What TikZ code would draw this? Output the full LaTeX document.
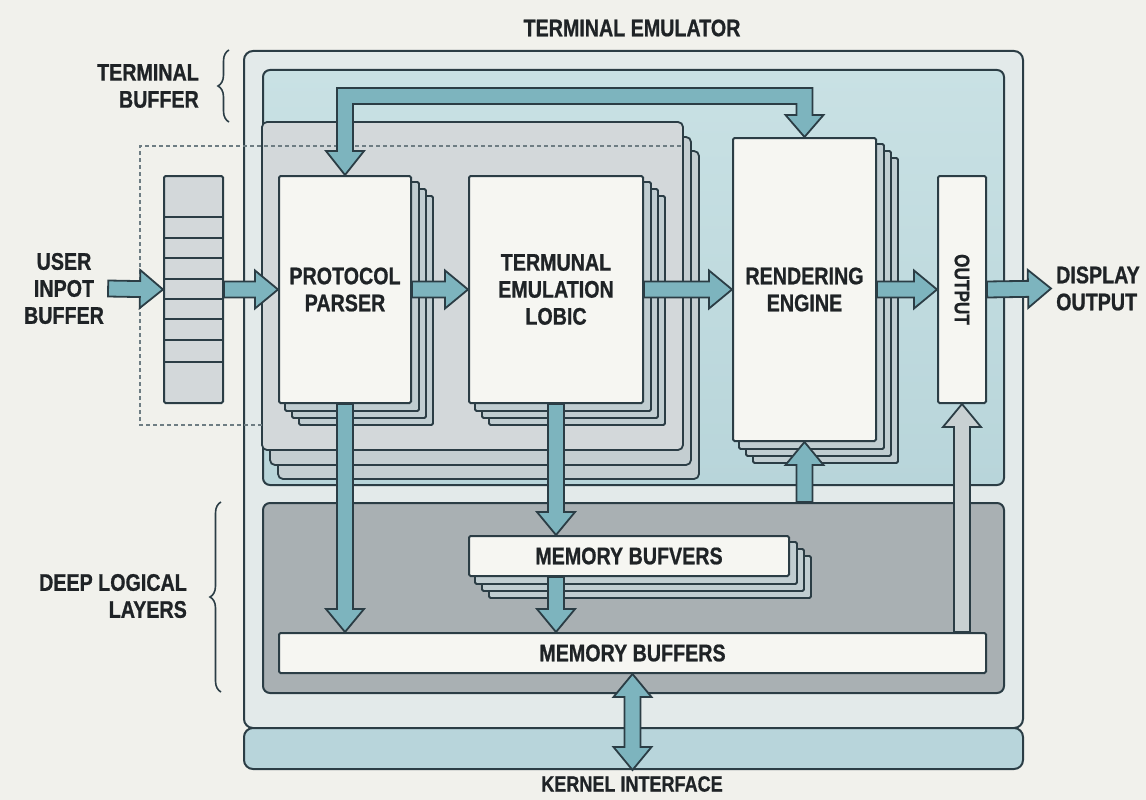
\documentclass[tikz,border=0pt]{standalone}
\usepackage{fontspec}
\setmainfont{Liberation Sans}[FakeStretch=0.82, BoldFeatures={FakeBold=0.8}]
\usetikzlibrary{calc,decorations.pathreplacing}
\pgfdeclarelayer{bg}\pgfdeclarelayer{mid}\pgfdeclarelayer{stk}\pgfdeclarelayer{fg}
\pgfsetlayers{bg,mid,stk,main,fg}
\definecolor{bgc}{HTML}{F1F1EC}
\definecolor{ink}{HTML}{2B3D45}
\definecolor{txt}{HTML}{1F2326}
\definecolor{outerf}{HTML}{E3EAEA}
\definecolor{tealreg}{HTML}{B8D5DA}
\definecolor{tealtop}{HTML}{C9E1E4}
\definecolor{deepf}{HTML}{A9B0B3}
\definecolor{panelf}{HTML}{D3D8DA}
\definecolor{panelc}{HTML}{C4CED1}
\definecolor{stackf}{HTML}{C0CDD1}
\definecolor{boxf}{HTML}{F6F6F2}
\definecolor{arrowf}{HTML}{7DB4BE}
\definecolor{arrowg}{HTML}{C8D0D2}
\definecolor{kernelf}{HTML}{B8D5DB}
\definecolor{dashc}{HTML}{6E7D83}
\definecolor{bufc}{HTML}{D3D8DA}
\newcommand\lbl{\bfseries\fontsize{24}{27}\selectfont}
\newcommand\lbls{\bfseries\fontsize{21}{24}\selectfont}
\tikzset{
 box/.style={draw=ink, line width=2pt, fill=boxf, rounded corners=1.5pt, inner sep=0pt, align=center, font=\lbl, text=txt},
 stackcopy/.style={draw=ink, line width=1.8pt, fill=stackf, rounded corners=1.5pt},
 region/.style={draw=ink, line width=2pt, rounded corners=7pt, inner sep=0pt},
 fat/.style={draw=ink, line width=1.8pt, fill=arrowf, line join=miter},
 fatg/.style={fat, fill=arrowg},
 lab/.style={font=\lbl, text=txt, inner sep=0pt, align=center},
 brc/.style={draw=ink, line width=1.6pt, decorate, decoration={brace, amplitude=11pt}},
}
\newcommand\fatarrow[3][fat]{%
 \coordinate (faA) at #2; \coordinate (faB) at #3;
 \coordinate (faH) at ($(faB)!23pt!(faA)$);
 \draw[#1] ($(faA)!8pt!90:(faB)$) -- ($(faH)!8pt!-90:(faA)$) -- ($(faH)!19pt!-90:(faA)$) -- (faB) -- ($(faH)!19pt!90:(faA)$) -- ($(faH)!8pt!90:(faA)$) -- ($(faA)!8pt!-90:(faB)$) -- cycle;
}
\newcommand\fatdarrow[3][fat]{%
 \coordinate (faA) at #2; \coordinate (faB) at #3;
 \coordinate (faH) at ($(faB)!23pt!(faA)$);
 \coordinate (faG) at ($(faA)!23pt!(faB)$);
 \draw[#1] (faA) -- ($(faG)!19pt!90:(faB)$) -- ($(faG)!8pt!90:(faB)$) -- ($(faH)!8pt!-90:(faA)$) -- ($(faH)!19pt!-90:(faA)$) -- (faB) -- ($(faH)!19pt!90:(faA)$) -- ($(faH)!8pt!90:(faA)$) -- ($(faG)!8pt!-90:(faB)$) -- ($(faG)!19pt!-90:(faB)$) -- cycle;
}
\begin{document}
\begin{tikzpicture}[x=1pt,y=-1pt]
\begin{pgfonlayer}{bg}
\fill[bgc] (0,0) rectangle (1146,800);
\useasboundingbox (0,0) rectangle (1146,800);
\node[region, fill=outerf, rounded corners=9pt, minimum width=779pt, minimum height=677pt, anchor=north west] (emu) at (243,50) {};
\node[region, fill=kernelf, rounded corners=9pt, minimum width=779pt, minimum height=41pt, anchor=north west] (kbar) at (243,727) {};
\node[region, top color=tealtop, bottom color=tealreg, minimum width=741pt, minimum height=415pt, anchor=north west] (treg) at (262,69) {};
\node[region, fill=deepf, minimum width=741pt, minimum height=190pt, anchor=north west] (deepreg) at (262,502) {};
\end{pgfonlayer}
\begin{pgfonlayer}{mid}
\draw[stackcopy, fill=panelc, rounded corners=5pt] (278,151) rectangle (699,479);
\draw[stackcopy, fill=panelc, rounded corners=5pt] (270,137) rectangle (691,465);
\draw[stackcopy, fill=panelf, rounded corners=5pt] (262,122) rectangle (683,450);
\draw[dashc, line width=1.2pt, dash pattern=on 4pt off 3pt] (262,425) -- (140,425) -- (140,146) -- (683,146);
\end{pgfonlayer}
% main boxes
\node[box, fill=bufc, minimum width=59pt, minimum height=227pt, anchor=north west] (ub) at (163,175) {};
\foreach \yy in {217,238,258,279,299,319,340,362} \draw[ink, line width=1.6pt] (ub.west |- 0,\yy) -- (ub.east |- 0,\yy);
\node[box, minimum width=132pt, minimum height=227pt, anchor=north west] (pp) at (278,175) {PROTOCOL\\PARSER};
\node[box, minimum width=174pt, minimum height=227pt, anchor=north west] (te) at (468,175) {TERMUNAL\\EMULATION\\LOBIC};
\node[box, minimum width=143pt, minimum height=303pt, anchor=north west] (re) at (732,137) {RENDERING\\ENGINE};
\node[box, minimum width=48pt, minimum height=227pt, anchor=north west] (out) at (937,175) {};
\node[lab, font=\lbls, rotate=-90] (outl) at (out.center) {OUTPUT};
\node[box, minimum width=320pt, minimum height=40pt, anchor=north west] (mb1) at (468,535) {MEMORY BUFVERS};
\node[box, minimum width=707pt, minimum height=40pt, anchor=north west] (mb2) at (278,632) {MEMORY BUFFERS};
\begin{pgfonlayer}{stk}
\foreach \k in {3,2,1} {
 \draw[stackcopy] ($(pp.north west)+(7*\k,7*\k)$) rectangle ($(pp.south east)+(7*\k,7*\k)$);
 \draw[stackcopy] ($(te.north west)+(7*\k,7*\k)$) rectangle ($(te.south east)+(7*\k,7*\k)$);
 \draw[stackcopy] ($(re.north west)+(7*\k,7*\k)$) rectangle ($(re.south east)+(7*\k,7*\k)$);
 \draw[stackcopy] ($(mb1.north west)+(7*\k,7*\k)$) rectangle ($(mb1.south east)+(7*\k,7*\k)$);
}
\end{pgfonlayer}
% labels
\node[lab] (temu) at (632,28) {TERMINAL EMULATOR};
\node[lab, font=\bfseries\fontsize{22}{25}\selectfont] (kern) at (632,784) {KERNEL INTERFACE};
\node[lab] (user) at (64,288.5) {USER\\INPOT\\BUFFER};
\node[lab, anchor=west, align=left] (disp) at (1056,288.5) {DISPLAY\\OUTPUT};
\node[lab, anchor=east, align=right] (tbuf) at (199,86) {TERMINAL\\BUFFER};
\node[lab, anchor=east, align=right] (deep) at (187,596) {DEEP LOGICAL\\LAYERS};
\draw[brc] (229,122) -- (229,50);
\draw[brc] (221,692) -- (221,502);
% arrows
\begin{pgfonlayer}{fg}
\coordinate (elT) at (0,96);
\draw[fat] ($(pp.north)+(-19,-24)$) -- ($(pp.north)+(-8,-24)$) -- ($(pp.north |- elT)+(-8,-8)$) -- ($(re.north |- elT)+(8,-8)$) -- ($(re.north)+(8,-22)$) -- ($(re.north)+(19,-22)$) -- (re.north) -- ($(re.north)+(-19,-22)$) -- ($(re.north)+(-8,-22)$) -- ($(re.north |- elT)+(-8,8)$) -- ($(pp.north |- elT)+(8,8)$) -- ($(pp.north)+(8,-24)$) -- ($(pp.north)+(19,-24)$) -- (pp.north) -- cycle;
\fatarrow{($(user.east)+(4,0)$)}{(ub.west)}
\fatarrow{(ub.east)}{(pp.west)}
\fatarrow{(pp.east)}{(te.west)}
\fatarrow{(te.east)}{(re.west)}
\fatarrow{(re.east)}{(out.west)}
\fatarrow{(out.east)}{($(disp.west)+(-5,0)$)}
\fatarrow{(pp.south)}{(pp.south |- mb2.north)}
\fatarrow{(te.south)}{(te.south |- mb1.north)}
\fatarrow{(te.south |- mb1.south)}{(te.south |- mb2.north)}
\fatarrow{(re.south |- deepreg.north)}{(re.south)}
\fatarrow[fatg]{(out.south |- mb2.north)}{(out.south)}
\fatdarrow{(mb2.south)}{(mb2.south |- kbar.south)}
\end{pgfonlayer}
\end{tikzpicture}
\end{document}
